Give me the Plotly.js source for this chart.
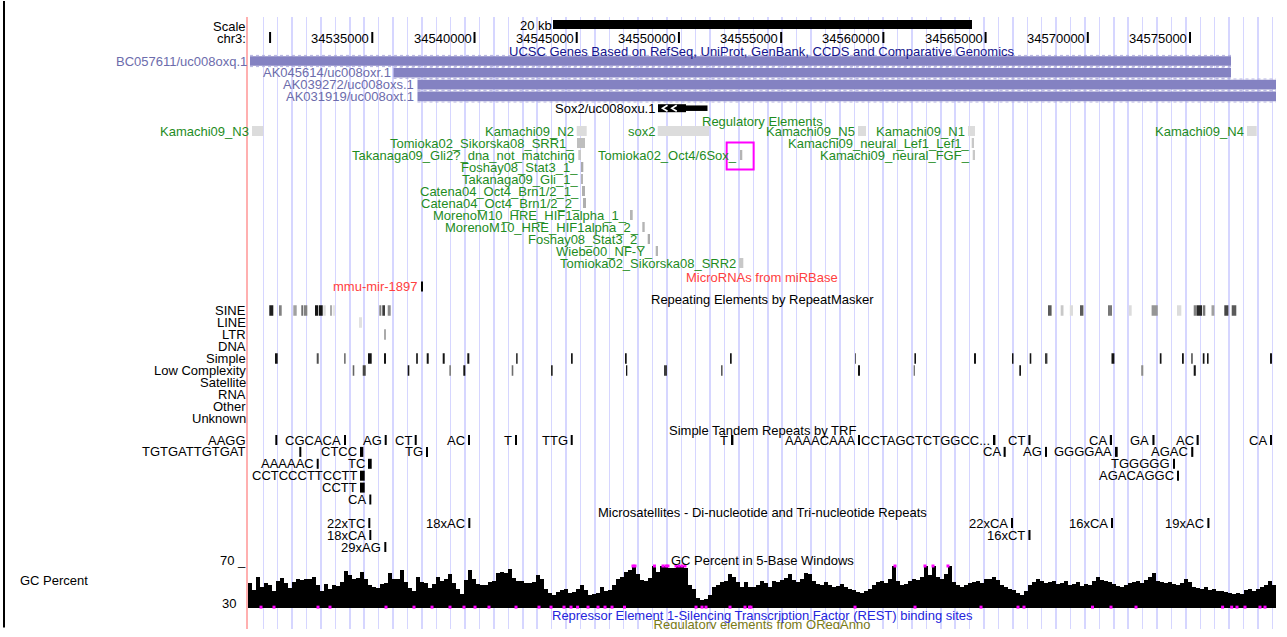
<!DOCTYPE html>
<html><head><meta charset="utf-8">
<script src="https://cdn.plot.ly/plotly-3.0.1.min.js"></script>
<style>html,body{margin:0;padding:0;background:#fff;overflow:hidden}</style>
</head><body><div id="chart" style="width:1287px;height:637px"></div>
<script>
// ---------------- DATA ----------------
const rulerTicks  = [34530000,34535000,34540000,34545000,34550000,34555000,34560000,34565000,34570000,34575000];
const rulerLabels = ['','34535000','34540000','34545000','34550000','34555000','34560000','34565000','34570000','34575000'];
const scaleBar = [34543840, 34564335];
const scaleLabel = '20 kb';

const geneNames    = ['BC057611/uc008oxq.1','AK045614/uc008oxr.1','AK039272/uc008oxs.1','AK031919/uc008oxt.1','Sox2/uc008oxu.1'];
const geneStart    = [34529018,34536038,34537211,34537211,34548976];
const geneEnd      = [34577005,34577005,34579400,34579400,34551397];
const geneThickEnd = [34577005,34577005,34579400,34579400,34550346];
const geneSource   = ['GenBank','GenBank','GenBank','GenBank','RefSeq'];
const geneStrand   = ['+','+','+','+','-'];

const regNames = ['Kamachi09_N3','Kamachi09_N2','sox2','Kamachi09_N5','Kamachi09_N1','Kamachi09_N4',
  'Tomioka02_Sikorska08_SRR1_','Kamachi09_neural_Lef1_Lef1_',
  'Takanaga09_Gli2?_dna_not_matching','Tomioka02_Oct4/6Sox_','Kamachi09_neural_FGF_',
  'Foshay08_Stat3_1_','Takanaga09_Gli_1_','Catena04_Oct4_Brn1/2_1_','Catena04_Oct4_Brn1/2_2_',
  'MorenoM10_HRE_HIF1alpha_1_','MorenoM10_HRE_HIF1alpha_2_','Foshay08_Stat3_2_','Wiebe00_NF-Y_','Tomioka02_Sikorska08_SRR2'];
const regStart = [34529116,34545000,34548961,34558759,34564140,34577787,34545013,34564321,34545077,34552987,34564370,
  34545209,34545209,34545258,34545307,34547606,34548208,34548472,34548863,34552938];
const regEnd   = [34529669,34545488,34551470,34559150,34564482,34578262,34545405,34564433,34545209,34553099,34564482,
  34545322,34545306,34545405,34545454,34547738,34548325,34548584,34548976,34553149];
const regRow   = [0,0,0,0,0,0,1,1,2,2,2,3,4,5,6,7,8,9,10,11];
const regScore = [149,149,149,149,149,149,277,234,234,319,234,362,319,340,340,319,319,362,319,234];
const regHighlight = 'Tomioka02_Oct4/6Sox_';

const mirNames = ['mmu-mir-1897'];
const mirStart = [34537383];
const mirEnd   = [34537480];

const repClasses = ['SINE','LINE','LTR','DNA','Simple','Low Complexity','Satellite','RNA','Other','Unknown'];
const repClass = [0,0,0,0,0,0,0,0,0,0,0,0,0,0,0,0,0,0,0,0,0,0,0,0,0,0,0,
  1,2,
  4,4,4,4,4,4,4,4,4,4,4,4,4,4,4,4,4,4,4,4,4,4,4,4,4,4,
  5,5,5,5,5,5,5,5,5,5,5,5,5,5,5];
const repStart = [34529962,34530437,34531136,34531527,34531659,34532198,34532393,34532604,34532931,34533063,34535343,34535490,34535754,
  34568053,34568674,34569119,34569618,34570988,34572006,34573121,34574363,34575180,34575342,34575625,34576051,34576677,34577039,
  34534350,34535573,
  34530241,34532281,34533616,34534790,34535573,34537138,34537662,34538444,34539648,34542030,34544721,34547362,34552498,34558612,
  34561518,34564433,34566292,34567158,34567906,34571159,34573522,34574608,34575048,34575625,34575831,34578912,
  34534042,34534531,34536732,34538767,34539452,34541819,34543742,34547411,34549269,34552057,34558759,34561479,34566649,34572612,34575180];
const repEnd = [34530158,34530569,34531302,34531625,34531821,34532359,34532575,34532721,34533029,34533176,34535441,34535622,34535901,
  34568229,34568811,34569276,34569785,34571184,34572147,34573420,34574574,34575342,34575586,34575748,34576193,34576878,34577264,
  34534497,34535671,
  34530373,34532379,34533699,34534971,34535671,34537236,34537760,34538542,34539746,34542113,34544804,34547445,34552581,34558661,
  34561596,34564531,34566365,34567236,34568024,34571301,34573605,34574696,34575141,34575708,34575909,34579010,
  34534120,34534678,34536811,34538850,34539550,34541898,34543825,34547474,34549416,34552135,34558857,34561547,34566732,34572715,34575283];
const repScore = [957,532,404,617,532,1000,1000,149,362,106,532,830,489,
  702,234,149,702,574,149,447,149,532,915,574,404,787,702,
  128,362,
  1000,745,574,1000,1000,830,1000,1000,1000,830,1000,1000,1000,660,
  1000,1000,1000,1000,830,1000,1000,1000,617,1000,1000,1000,
  660,787,1000,532,1000,617,915,1000,830,702,1000,574,1000,489,1000];

const trfLabel = ['AAGG','CGCACA','AG','CT','AC','T','TTG','T','AAAACAAA','CCTAGCTCTGGCC...','CT','CA','GA','AC','CA',
  'TGTGATTGTGAT','CTCC','TG','CA','AG','GGGGAA','AGAC',
  'AAAAAC','TC','TGGGGG',
  'CCTCCCTTCCTT','AGACAGGC',
  'CCTT',
  'CA'];
const trfRow = [0,0,0,0,0,0,0,0,0,0,0,0,0,0,0, 1,1,1,1,1,1,1, 2,2,2, 3,3, 4, 5];
const trfStart = [34530256,34533616,34535607,34537075,34539682,34541981,34544706,34552547,34558759,34565363,34567094,34571076,34573160,34575322,34578912,
  34531430,34534399,34537627,34565881,34567906,34571330,34575058,
  34532281,34534790,34574167,
  34534399,34574363,
  34534399,
  34534854];
const trfEnd = [34530354,34533714,34535705,34537173,34539780,34542079,34544804,34552664,34558857,34565480,34567197,34571184,34573263,34575425,34579010,
  34531528,34534561,34537725,34565984,34568004,34571462,34575161,
  34532379,34534971,34574265,
  34534629,34574461,
  34534629,
  34534952];

const msLabel = ['22xTC','18xAC','22xCA','16xCA','19xAC','18xCA','16xCT','29xAG'];
const msRow   = [0,0,0,0,0,1,1,2];
const msStart = [34534805,34539697,34566243,34571135,34575850,34534854,34567094,34535588];
const msEnd   = [34534903,34539795,34566341,34571233,34575948,34534952,34567197,34535686];

// GC percent, one value per window bin starting at gcStart
const gcStart = 34528920;
const gcBin = 195.66;
const gcValues = [
  54,47,60,50,54,52,46,56,59,54, 49,55,58,57,58,58,60,52,46,53,
  48,52,51,55,65,61,58,59,64,58, 52,50,49,53,54,63,58,58,66,55,
  49,46,60,55,54,49,53,60,56,58, 62,54,48,43,57,66,58,53,52,52,
  55,56,63,64,63,67,59,56,56,54, 54,55,61,58,48,44,42,45,47,48,
  44,45,48,52,47,42,43,44,50,46, 47,52,58,60,64,66,72,62,
  57,56,59,71,64,70,71,68,68,71, 71,68,52,48,40,38,39,42,50,52,
  55,56,62,60,55,50,55,50,50,52, 56,54,50,56,55,57,59,62,57,55,
  58,63,62,56,53,52,55,52,50,51, 53,50,48,47,45,44,46,48,52,55,
  56,54,58,71,56,52,53,56,58,57, 60,71,61,71,60,58,62,71,55,52,
  50,52,54,55,56,54,58,58,60,57, 52,50,48,47,44,42,46,52,55,58,
  56,54,55,56,53,54,56,52,53,55, 51,53,52,56,60,57,56,55,53,51,
  50,52,54,55,56,54,57,60,63,56, 55,54,55,53,52,54,58,55,50,49,
  48,50,47,48,46,46,45,44,43,44, 43,47,48,46,48,50,52,56,52];
const gcBelowRange = [34529556,34530192,34532344,34532931,34535671,34537040,34537921,34538801,34539486,34540024,34540709,34542030,
  34543155,34543742,34544378,34544720,34545043,34545552,34546041,34546383,34546726,34547337,34550835,34551128,34551324,34552498,
  34553231,34553452,34553525,34558612,34561547,34564776,34566585,34566879,34570230,34571135,34572358,34576594,34577039,34577298,
  34577689,34578423,34578668];
const gcAboveRange = [34547753,34547851,34548805,34549220,34549367,34549465,34549856,34550003,34550150,34550296,34560569,34562036,34562428,34563161];

const trackTitles = ['UCSC Genes Based on RefSeq, UniProt, GenBank, CCDS and Comparative Genomics','Regulatory Elements',
  'MicroRNAs from miRBase','Repeating Elements by RepeatMasker','Simple Tandem Repeats by TRF',
  'Microsatellites - Di-nucleotide and Tri-nucleotide Repeats','GC Percent in 5-Base Windows',
  'Repressor Element 1-Silencing Transcription Factor (REST) binding sites','Regulatory elements from ORegAnno'];

// ---------------- DRAWING ----------------
const FONT = 'Liberation Sans, Arial, Helvetica, sans-serif';
const X0 = 34528920, X1 = 34579206;
const LEFT = 248, PW = 1028, BOTTOM = 629, TOP = 17, PH = BOTTOM - TOP;
const px = p => (p - LEFT) / PW;              // paper x for left-column labels
const py = p => (BOTTOM - p) / PH;            // paper y from pixel row
const BPPX = (X1 - X0) / PW;                  // bp per pixel
const shapes = [], ann = [];
const grey = s => { const g = Math.round(255 - 0.235 * s); return `rgb(${g},${g},${g})`; };
function rect(x0, x1, yc, h, color) {
  shapes.push({type:'rect', xref:'x', yref:'y', x0, x1, y0:yc - h/2, y1:yc + h/2,
    fillcolor:color, line:{width:0}, layer:'above'});
}
function txt(text, x, y, color, o) {
  ann.push(Object.assign({text, x, y, xref:'x', yref:'y', showarrow:false, xanchor:'right', yanchor:'middle',
    borderpad:0, borderwidth:0, font:{family:FONT, size:13, color:color || '#000'}}, o || {}));
}
function title(text, y, color) { txt(text, 0.5, y, color, {xref:'paper', xanchor:'center'}); }
function leftLabel(text, y, color, o) { txt(text, px(246), y, color, Object.assign({xref:'paper'}, o || {})); }

// frame (left border of the image) drawn as an arrow-less annotation line
ann.push({x:px(4), y:py(0), xref:'paper', yref:'paper', text:'', showarrow:true, arrowhead:0, arrowwidth:2,
  arrowcolor:'#000', ax:0, ay:BOTTOM, axref:'pixel', ayref:'pixel', standoff:0, startstandoff:0});

// header
leftLabel('Scale', 26);
leftLabel('chr3:', 38);
rect(scaleBar[0], scaleBar[1], 24.5, 9, '#000');
txt(scaleLabel, scaleBar[0], 25, '#000', {xshift:-1});
rulerLabels.forEach((l, i) => { if (l) txt(l, rulerTicks[i], 38, '#000', {xshift:-3}); });
const tickX = [], tickY = [];
rulerTicks.forEach(t => { tickX.push(t, t, null); tickY.push(32, 43, null); });

// genes
title(trackTitles[0], 51, '#14148c');
geneNames.forEach((n, i) => {
  const yc = 61 + 11.8 * i;
  const coding = geneSource[i] === 'RefSeq';
  const col = coding ? '#000' : '#8482c2';
  rect(geneStart[i], geneThickEnd[i], yc, coding ? 8 : 9.6, col);
  if (geneThickEnd[i] < geneEnd[i]) rect(geneThickEnd[i], geneEnd[i], yc, 5.5, col);
  if (!coding) {
    [yc - 5.6, yc + 5.6].forEach(yy => shapes.push({type:'line', xref:'x', yref:'y', x0:geneStart[i], x1:geneEnd[i], y0:yy, y1:yy,
      line:{color:'#b4b2e0', width:1, dash:'dot'}, layer:'above'}));
  } else {
    const len = geneThickEnd[i] - geneStart[i], d = geneStrand[i] === '+' ? 1 : -1;
    [0.25, 0.58].forEach(f => {
      const cx = geneStart[i] + len * f;
      shapes.push({type:'path', xref:'x', yref:'y', layer:'above', line:{color:'#fff', width:1.6},
        path:`M ${cx - d * 2.5 * BPPX},${yc - 3} L ${cx + d * 2.5 * BPPX},${yc} L ${cx - d * 2.5 * BPPX},${yc + 3}`});
    });
  }
  txt(n, geneStart[i], yc, coding ? '#000' : '#6c6cac', {xshift:-3});
});

// regulatory elements
title(trackTitles[1], 121, '#1e8c1e');
regNames.forEach((n, i) => {
  const yc = 131 + 12 * regRow[i];
  rect(regStart[i], regEnd[i], yc, 10, grey(regScore[i]));
  txt(n, regStart[i], yc, '#1e8c1e', {xshift:-3});
  if (n === regHighlight) {
    const c = (regStart[i] + regEnd[i]) / 2;
    shapes.push({type:'rect', xref:'x', yref:'y', x0:c - 14.5 * BPPX, x1:c + 12.5 * BPPX, y0:yc - 12.5, y1:yc + 14.5,
      line:{color:'#ff00ff', width:2}, fillcolor:'rgba(0,0,0,0)', layer:'above'});
  }
});

// microRNAs
title(trackTitles[2], 277, '#ff4040');
mirNames.forEach((n, i) => { rect(mirStart[i], mirEnd[i], 286.5, 10, '#000'); txt(n, mirStart[i], 286, '#ff4040', {xshift:-3}); });

// RepeatMasker
title(trackTitles[3], 299, '#000');
repClasses.forEach((c, k) => leftLabel(c, 310.5 + 12 * k));
repClass.forEach((k, i) => rect(repStart[i], repEnd[i], 310.5 + 12 * k, 10.5, grey(repScore[i])));

// TRF
title(trackTitles[4], 430, '#000');
trfLabel.forEach((l, i) => {
  const yc = 440 + 11.9 * trfRow[i];
  rect(trfStart[i], trfEnd[i], yc, 10, '#000');
  const rowItems = trfStart.map((s, j) => trfRow[j] === trfRow[i] ? s : Infinity);
  const first = Math.min(...rowItems) === trfStart[i];
  if (first && (trfStart[i] - X0) < 3000) leftLabel(l, yc); else txt(l, trfStart[i], yc, '#000', {xshift:-3});
});

// Microsatellites
title(trackTitles[5], 512, '#000');
msLabel.forEach((l, i) => {
  const yc = 523 + 12 * msRow[i];
  rect(msStart[i], msEnd[i], yc, 10, '#000');
  txt(l, msStart[i], yc, '#000', {xshift:-3});
});

// GC percent
title(trackTitles[6], 560, '#000');
ann.push({text:'GC Percent', x:px(20), y:580, xref:'paper', yref:'y', xanchor:'left', yanchor:'middle', showarrow:false,
  borderpad:0, borderwidth:0, font:{family:FONT, size:13, color:'#000'}});
leftLabel('70 _', 560);
leftLabel('30', 603, '#000', {x:px(236)});
const gcX = gcValues.map((v, i) => gcStart + gcBin * (i + 0.5));

title(trackTitles[7], 615, '#2424dc');

const traces = [
  {type:'scatter', mode:'lines', x:tickX, y:tickY, line:{color:'#000', width:2}, hoverinfo:'skip'},
  {type:'bar', x:gcX, y:gcValues, width:gcBin, marker:{color:'#000', line:{width:0}}, xaxis:'x', yaxis:'y2', hoverinfo:'skip'},
  {type:'scatter', mode:'markers', x:gcBelowRange, y:gcBelowRange.map(() => 30.8), xaxis:'x', yaxis:'y2', cliponaxis:false,
    marker:{symbol:'square', size:3, color:'#ff00ff'}, hoverinfo:'skip'},
  {type:'scatter', mode:'markers', x:gcAboveRange, y:gcAboveRange.map(() => 70), xaxis:'x', yaxis:'y2', cliponaxis:false,
    marker:{symbol:'square', size:3, color:'#ff00ff'}, hoverinfo:'skip'},
  // last track title is cut by the image's lower edge, so it is drawn as clipped text
  {type:'scatter', mode:'text', x:[(X0 + X1) / 2], y:[626], text:[trackTitles[8]], textposition:'middle center',
    textfont:{family:FONT, size:13, color:'#7a7a14'}, cliponaxis:true, hoverinfo:'skip'}
];

const layout = {
  width:1287, height:637, margin:{l:248, r:11, t:TOP, b:637 - BOTTOM},
  paper_bgcolor:'#fff', plot_bgcolor:'rgba(0,0,0,0)', showlegend:false, bargap:0,
  font:{family:FONT, size:13, color:'#000'},
  xaxis:{range:[X0, X1], showgrid:true, gridcolor:'#d6d6ff', gridwidth:1.5, tickmode:'linear', tick0:34529669, dtick:705.1,
    showticklabels:false, ticks:'', zeroline:false, showline:false, fixedrange:true},
  yaxis:{range:[BOTTOM, TOP], showgrid:false, zeroline:false, showticklabels:false, ticks:'', showline:true,
    linecolor:'#ffb0b0', linewidth:2, fixedrange:true},
  yaxis2:{domain:[py(608), py(566)], range:[30, 70], anchor:'x', showgrid:false, zeroline:false, showticklabels:false,
    ticks:'', showline:false, fixedrange:true},
  shapes, annotations:ann
};
Plotly.newPlot('chart', traces, layout, {staticPlot:true, displayModeBar:false});
</script></body></html>
